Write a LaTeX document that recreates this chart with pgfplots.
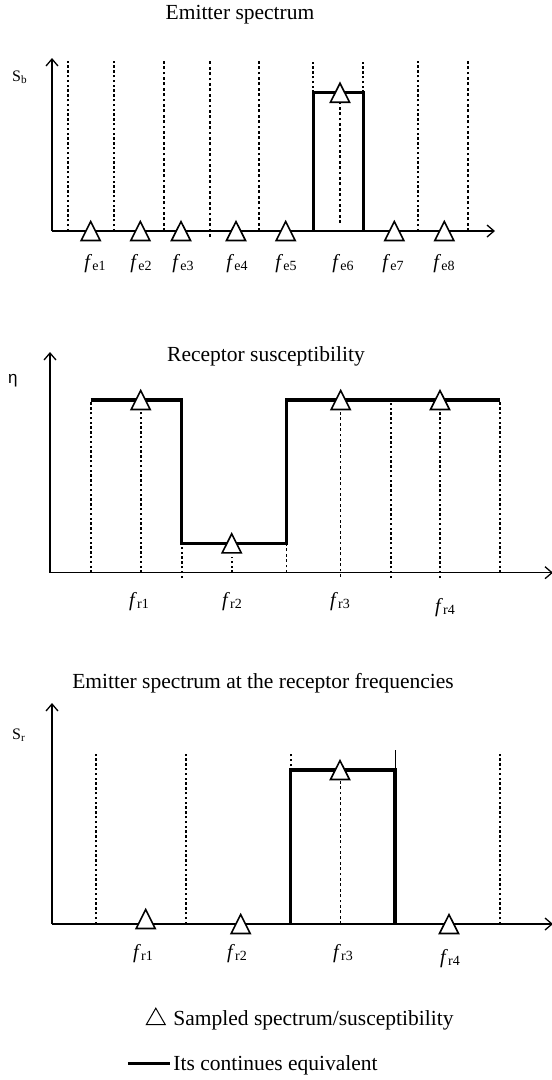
\documentclass[border=0pt]{standalone}
\usepackage{fontspec}
\setmainfont{Liberation Serif}
\newfontfamily\sansgreek{Liberation Sans}
\usepackage{pgfplots}
\pgfplotsset{compat=1.18}
\usetikzlibrary{arrows.meta}
\newcommand{\fl}[1]{\textit{f}\raisebox{-2pt}{\fontsize{14}{14}\selectfont #1}}
\newcommand{\titlefont}{\fontsize{21.5}{25}\selectfont}
\pgfplotsset{
  panel/.style={
    scale only axis, clip=false, anchor=south west,
    axis lines=left,
    axis line style={line width=1.3pt, -{Straight Barb[length=7pt,width=12pt]}},
    ytick=\empty, major tick length=0pt,
    unbounded coords=jump,
    xticklabel style={anchor=base, font=\fontsize{20}{22}\selectfont},
  },
  thickdot/.style={black, line width=1.7pt, dash pattern=on 2.4pt off 2.4pt},
  thindot/.style={black, line width=1.1pt, dash pattern=on 2.8pt off 2.6pt},
  stepline/.style={black, line width=3.2pt, line join=miter},
  tri/.style={only marks, mark=triangle*, mark size=11pt,
    mark options={fill=white, draw=black, line width=1.6pt, yshift=-3.2pt, yscale=1.15}},
  trilegend/.style={legend image code/.code={\draw[##1] plot coordinates {(28pt,0pt)};}},
  linelegend/.style={legend image code/.code={\draw[##1] (0pt,0pt) -- (42pt,0pt);}},
}
\begin{document}
\begin{tikzpicture}
\useasboundingbox (0pt,0pt) rectangle (552pt,-1080pt);
% ---------- Panel 1: Emitter spectrum ----------
\begin{axis}[panel, at={(52pt,-231pt)}, width=443pt, height=173pt,
  xmin=52, xmax=495, ymin=0, ymax=173,
  xtick={95,141,183,237,286,343,393,444},
  xticklabels={\fl{e1},\fl{e2},\fl{e3},\fl{e4},\fl{e5},\fl{e6},\fl{e7},\fl{e8}},
  xticklabel style={yshift=-37.5pt}]
\addplot[thickdot] coordinates {(68.3,0)(68.3,170) (nan,nan) (114,0)(114,170) (nan,nan)
  (418,0)(418,170) (nan,nan) (313.3,138.3)(313.3,170) (nan,nan) (363.3,138.3)(363.3,170)};
\addplot[thindot] coordinates {(164,0)(164,170) (nan,nan) (210,-6)(210,170) (nan,nan)
  (259,0)(259,170) (nan,nan) (468,0)(468,170) (nan,nan) (340,8)(340,129)};
\addplot[stepline] coordinates {(313.3,0)(313.3,138.3)(363.3,138.3)(363.3,0)};
\addplot[tri] coordinates {(90.7,0)(140.3,0)(181,0)(236,0)(285.7,0)(340,138.3)(394.3,0)(444.3,0)};
\node[font=\titlefont, anchor=base] at (axis cs:240,211.7) {Emitter spectrum};
\node[font=\fontsize{16}{18}\selectfont, anchor=base west, inner sep=0pt] at (axis cs:12,150) {S\textsubscript{b}};
\end{axis}
% ---------- Panel 2: Receptor susceptibility ----------
\begin{axis}[panel, at={(50pt,-572.7pt)}, width=503pt, height=220.7pt,
  xmin=50, xmax=553, ymin=0, ymax=220.7,
  xtick={139,232,340,445},
  xticklabels={\fl{r1},\fl{r2},\fl{r3},\raisebox{-6pt}{\fl{r4}}},
  xticklabel style={yshift=-33.5pt}]
\addplot[thickdot] coordinates {(90.7,0)(90.7,172.7) (nan,nan) (140.7,0)(140.7,162.7) (nan,nan)
  (181.7,-5.3)(181.7,29.4) (nan,nan) (231.7,0)(231.7,16) (nan,nan) (390.7,-5.3)(390.7,172.7) (nan,nan)
  (440,-5.3)(440,162.7) (nan,nan) (500,0)(500,172.7)};
\addplot[thindot] coordinates {(286.7,0)(286.7,29.4) (nan,nan) (340.7,-4)(340.7,162.7)};
\addplot[stepline] coordinates {(90.7,172.7)(181.7,172.7)(181.7,29.4)(286.7,29.4)(286.7,172.7)(500,172.7)};
\addplot[tri] coordinates {(140.7,172.7)(231.7,29.4)(340.7,172.7)(440,172.7)};
\node[font=\titlefont, anchor=base] at (axis cs:266,211) {Receptor susceptibility};
\node[font=\sansgreek\fontsize{17}{18}\selectfont, anchor=base west, inner sep=0pt] at (axis cs:8,189.7) {η};
\end{axis}
% ---------- Panel 3: Emitter spectrum at the receptor frequencies ----------
\begin{axis}[panel, at={(52pt,-924pt)}, width=501pt, height=221pt,
  xmin=52, xmax=553, ymin=0, ymax=221,
  xtick={143,237,343,450},
  xticklabels={\fl{r1},\fl{r2},\fl{r3},\raisebox{-5pt}{\fl{r4}}},
  xticklabel style={yshift=-34pt},
  legend style={at={(axis cs:126,-84)}, anchor=north west, draw=none, fill=none,
    font=\titlefont, row sep=24pt, inner sep=0pt},
  legend cell align=left]
\addplot[thickdot, forget plot] coordinates {(95.7,0)(95.7,171) (nan,nan) (186,0)(186,171) (nan,nan)
  (290.7,158)(290.7,170) (nan,nan) (500,0)(500,172)};
\addplot[thindot, forget plot] coordinates {(340.7,0)(340.7,149)};
\addplot[black, line width=0.6pt, forget plot] coordinates {(395,154)(395,174)};
\addplot[stepline, forget plot] coordinates {(290.7,0)(290.7,154)(395,154)(395,0)};
\addplot[tri, forget plot] coordinates {(145.7,5)(240.7,0)(340,154)(449,0)};
\node[font=\titlefont, anchor=base] at (axis cs:263,236) {Emitter spectrum at the receptor frequencies};
\node[font=\fontsize{16}{18}\selectfont, anchor=base west, inner sep=0pt] at (axis cs:12,185) {S\textsubscript{r}};
\addlegendimage{black, mark=triangle, mark size=11pt, line width=1pt, trilegend}
\addlegendentry{Sampled spectrum/susceptibility}
\addlegendimage{black, line width=3.2pt, linelegend}
\addlegendentry{Its continues equivalent}
\end{axis}
\end{tikzpicture}
\end{document}
